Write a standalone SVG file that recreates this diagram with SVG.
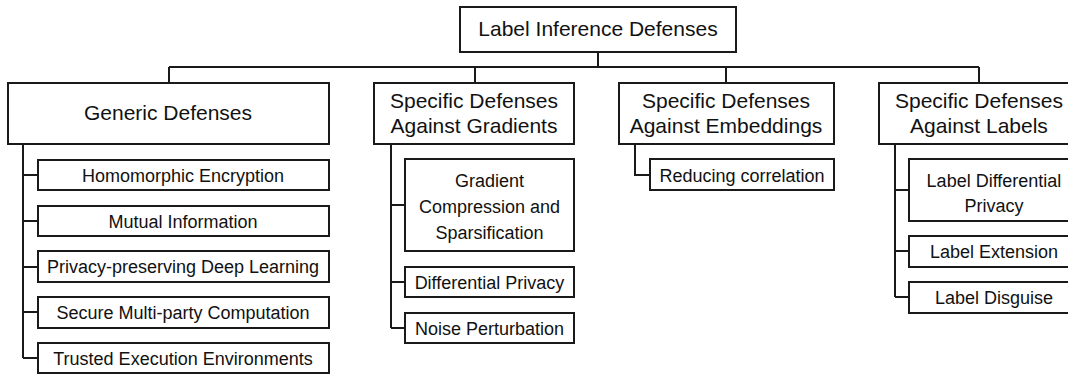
<svg xmlns="http://www.w3.org/2000/svg" width="1068" height="375" viewBox="0 0 1068 375">
<style>
.box{fill:#fff;stroke:#1a1a1a;stroke-width:2}
.ln{fill:none;stroke:#1a1a1a;stroke-width:2}
text{font-family:"Liberation Sans",Arial,sans-serif;fill:#111;text-anchor:middle}
.l{font-size:21px}
.s{font-size:18px}
</style>
<rect width="1068" height="375" fill="#fff"/>
<g id="connectors">
<path class="ln" d="M598 52V67M169 67H979M169 67V83M475 67V83M726 67V83M979 67V83"/>
<path class="ln" d="M23 144V358M23 175H38M23 221H38M23 267H38M23 312H38M23 358H38"/>
<path class="ln" d="M391 144V328M391 205H405M391 282H405M391 328H405"/>
<path class="ln" d="M635 144V175H650"/>
<path class="ln" d="M895 144V297M895 190H909M895 251H909M895 297H909"/>
</g>
<g id="root"><rect class="box" x="460" y="7" width="276" height="45"/><text class="l" x="598" y="36">Label Inference Defenses</text></g>
<g id="generic"><rect class="box" x="8" y="83" width="321" height="61"/><text class="l" x="168" y="120">Generic Defenses</text></g>
<g id="he"><rect class="box" x="38" y="160" width="291" height="30"/><text class="s" x="183" y="182">Homomorphic Encryption</text></g>
<g id="mi"><rect class="box" x="38" y="206" width="291" height="30"/><text class="s" x="183" y="228">Mutual Information</text></g>
<g id="ppdl"><rect class="box" x="38" y="251" width="291" height="31"/><text class="s" x="183" y="273">Privacy-preserving Deep Learning</text></g>
<g id="smpc"><rect class="box" x="38" y="297" width="291" height="31"/><text class="s" x="183" y="319">Secure Multi-party Computation</text></g>
<g id="tee"><rect class="box" x="38" y="343" width="291" height="30"/><text class="s" x="183" y="365">Trusted Execution Environments</text></g>
<g id="gradients"><rect class="box" x="374" y="83" width="200" height="61"/><text class="l" x="474" y="108">Specific Defenses</text><text class="l" x="474" y="133">Against Gradients</text></g>
<g id="gcs"><rect class="box" x="405" y="159" width="169" height="92"/><text class="s" x="489.500" y="187">Gradient</text><text class="s" x="489.500" y="213">Compression and</text><text class="s" x="489.500" y="239">Sparsification</text></g>
<g id="dp"><rect class="box" x="405" y="267" width="169" height="30"/><text class="s" x="489.500" y="289">Differential Privacy</text></g>
<g id="np"><rect class="box" x="405" y="313" width="169" height="30"/><text class="s" x="489.500" y="335">Noise Perturbation</text></g>
<g id="embeddings"><rect class="box" x="619" y="83" width="215" height="61"/><text class="l" x="726" y="108">Specific Defenses</text><text class="l" x="726" y="133">Against Embeddings</text></g>
<g id="rc"><rect class="box" x="650" y="159" width="184" height="31"/><text class="s" x="742" y="182">Reducing correlation</text></g>
<g id="labels"><rect class="box" x="879" y="83" width="200" height="61"/><text class="l" x="979" y="108">Specific Defenses</text><text class="l" x="979" y="133">Against Labels</text></g>
<g id="ldp"><rect class="box" x="909" y="159" width="170" height="62"/><text class="s" x="994" y="187">Label Differential</text><text class="s" x="994" y="212">Privacy</text></g>
<g id="le"><rect class="box" x="909" y="236" width="170" height="31"/><text class="s" x="994" y="258">Label Extension</text></g>
<g id="ld"><rect class="box" x="909" y="282" width="170" height="31"/><text class="s" x="994" y="304">Label Disguise</text></g>
</svg>
